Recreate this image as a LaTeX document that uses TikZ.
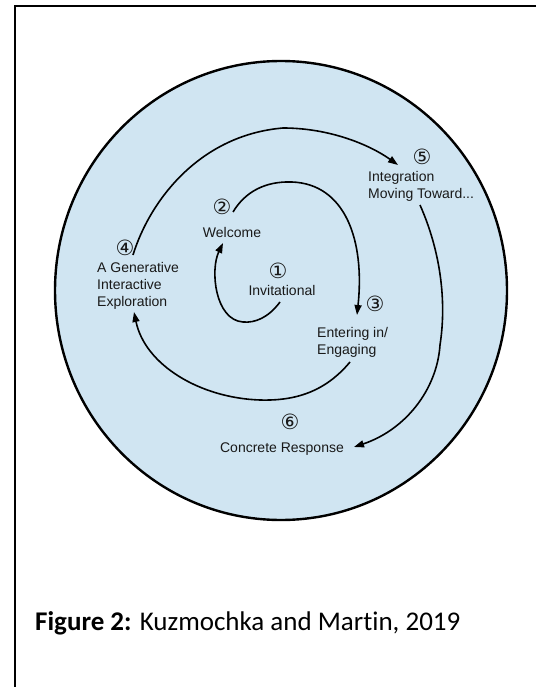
\documentclass[tikz,border=0pt]{standalone}
\usepackage{fontspec}
\setmainfont{Liberation Sans}
\newfontfamily\numfont{DejaVu Sans}
\newfontfamily\capfont[Ligatures=NoCommon]{Carlito}
\usetikzlibrary{arrows.meta,calc}
\definecolor{discblue}{HTML}{D0E5F2}
\tikzset{
  frameline/.style={draw=black, line width=2pt},
  disc/.style={draw=black, line width=2.4pt, fill=discblue},
  lbl/.style={inner sep=0pt, font=\fontsize{14}{17}\selectfont, text=black!90},
  lblleft/.style={lbl, align=left, anchor=base west},
  num/.style={inner sep=0pt, font=\numfont\fontsize{21}{21}\selectfont, text=black!90},
  spiral/.style={-{Triangle[length=10pt,width=7pt]}, line width=1.6pt}
}

\begin{document}
\begin{tikzpicture}[x=1pt,y=-1pt]
  \useasboundingbox (0,0) rectangle (536,687);
  % frame and disc
  \draw[frameline] (536,6) -- (15,6) -- (15,687);
  \draw[disc] (281,290.5) ellipse [x radius=226, y radius=229.5];

  % stages
  \node[num] (n1) at (278,271) {①};
  \node[lbl, anchor=base] (inv) at (282,295) {Invitational};
  \node[num] (n2) at (222,207) {②};
  \node[lbl, anchor=base] (wel) at (232,237) {Welcome};
  \node[num] (n3) at (375,304) {③};
  \node[lblleft] (ent) at (317,354) {Entering in/\\Engaging};
  \node[num] (n4) at (125,248) {④};
  \node[lblleft] (gen) at (97,306) {A Generative\\Interactive\\Exploration};
  \node[num] (n5) at (422,157) {⑤};
  \node[lblleft] (integ) at (368,198) {Integration\\Moving Toward...};
  \node[num] (n6) at (290,422) {⑥};
  \node[lbl, anchor=base] (conc) at (282,452) {Concrete Response};

  % arrow ends
  \coordinate (s1) at (280,302);  \coordinate (e1) at (223,243);
  \coordinate (s2) at (233,212);  \coordinate (e2) at (357,315);
  \coordinate (s3) at (350,362);  \coordinate (e3) at (134,312);
  \coordinate (s4) at (133,255);  \coordinate (e4) at (398,165);
  \coordinate (s5) at (420,205);  \coordinate (e5) at (354,447);

  % spiral
  \draw[spiral] (s1) .. controls (268,318) and (255,323) .. (243,322)
    .. controls (215,320) and (210,270) .. (e1);
  \draw[spiral] (s2) .. controls (245,192) and (265,181) .. (292,182)
    .. controls (345,184) and (365,240) .. (e2);
  \draw[spiral] (s3) .. controls (325,392) and (295,401) .. (260,400)
    .. controls (200,398) and (145,365) .. (e3);
  \draw[spiral] (s4) .. controls (150,200) and (200,135) .. (283,128)
    .. controls (330,128) and (370,145) .. (e4);
  \draw[spiral] (s5) .. controls (440,250) and (447,300) .. (440,345)
    .. controls (437,390) and (405,430) .. (e5);

  % caption
  \node[inner sep=0pt, anchor=base west, font=\capfont\fontsize{27}{27}\selectfont] (caption) at (35,630)
    {\textbf{Figure 2:} Kuzmochka and Martin, 2019};
\end{tikzpicture}
\end{document}
